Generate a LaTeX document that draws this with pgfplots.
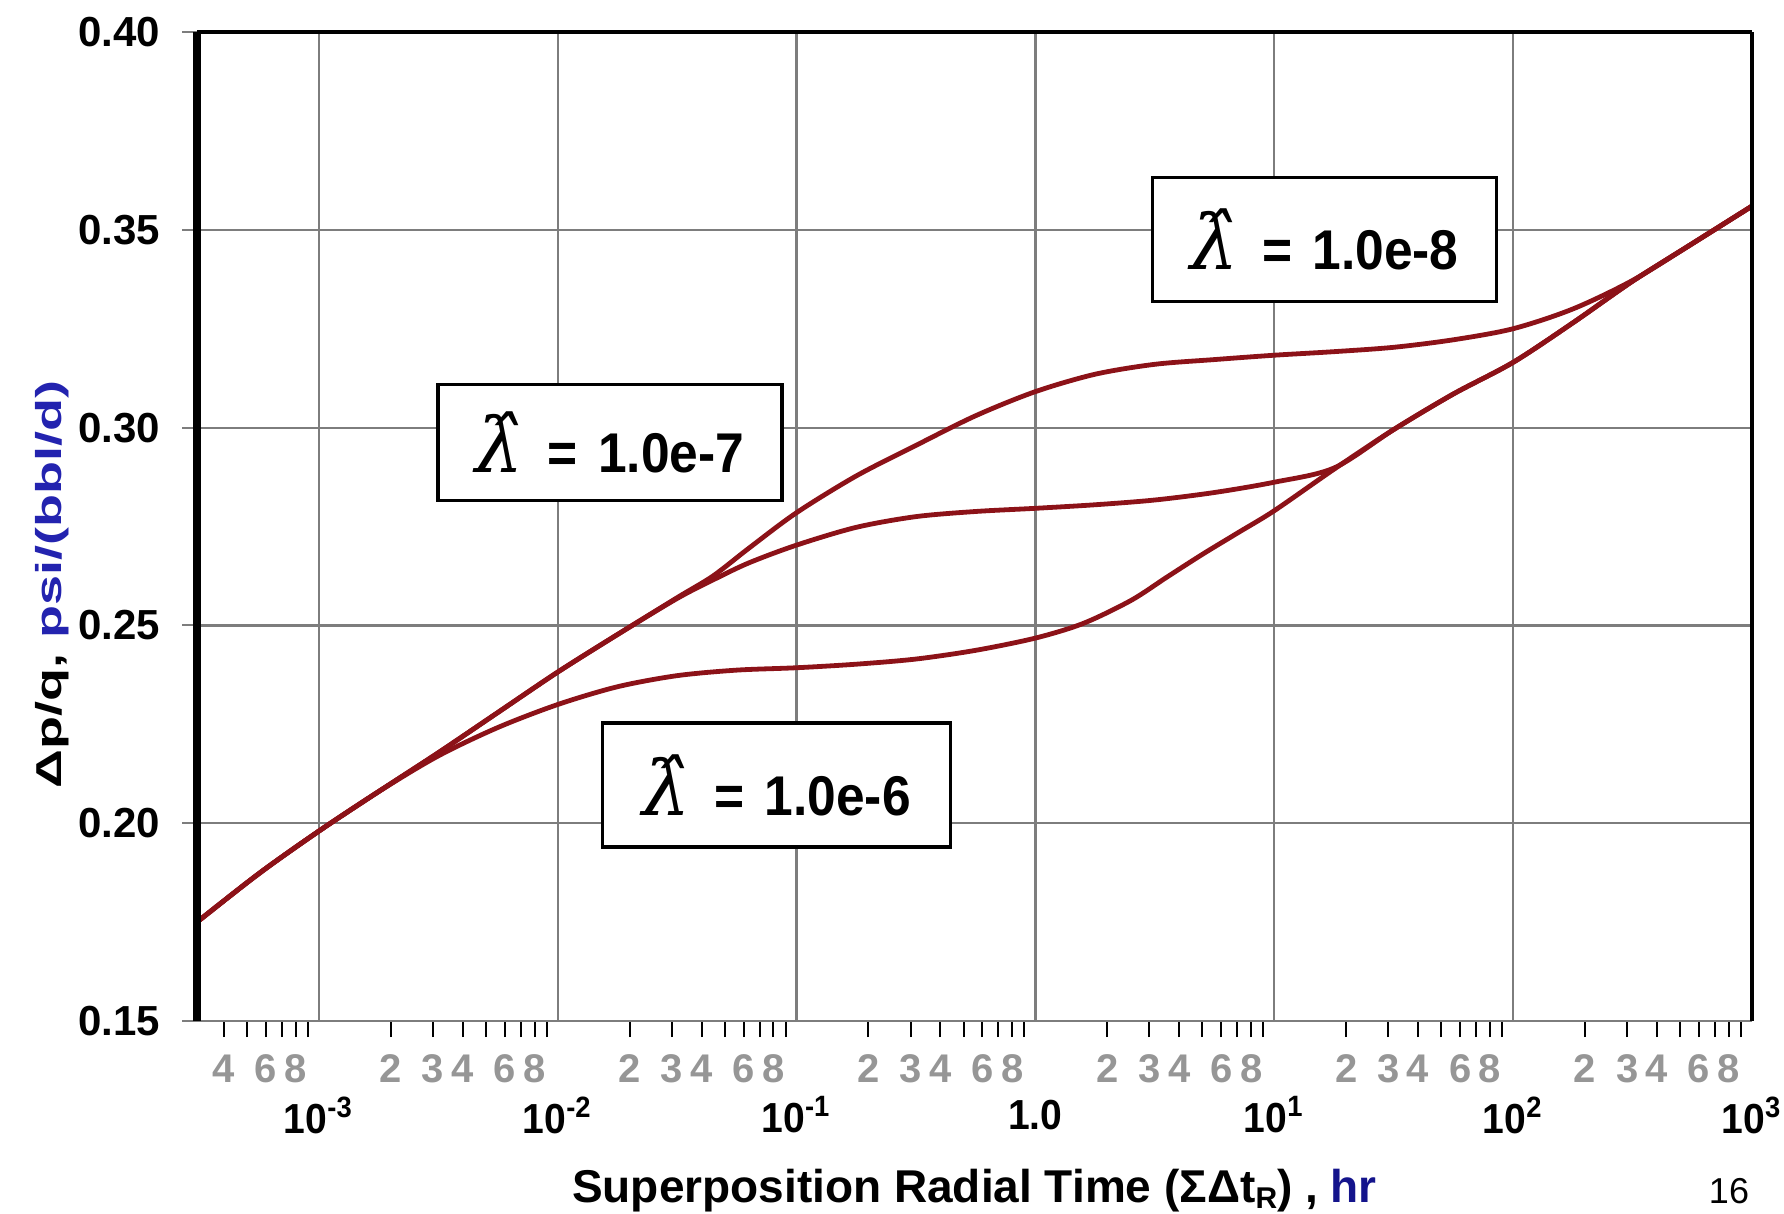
\documentclass[border=0pt]{standalone}
\usepackage{pgfplots}
\pgfplotsset{compat=1.18}
\usepackage{fontspec}
\setmainfont{Liberation Sans}
\newfontfamily\ylabfont{Liberation Sans}[FakeStretch=1.5]
\newfontfamily\xmajfont{Liberation Sans}[FakeStretch=0.93]
\newfontfamily\boxfont{Liberation Sans}[FakeStretch=0.92]
\newfontfamily\lamfont{DejaVu Serif}
\definecolor{curve}{RGB}{140,18,24}
\definecolor{gridc}{RGB}{125,125,125}
\definecolor{navy}{RGB}{35,35,175}
\definecolor{navyhr}{RGB}{20,20,140}
\definecolor{minorlab}{RGB}{150,150,150}
\newcommand{\lamhat}{{\lamfont\itshape\fontsize{19}{19}\selectfont λ̂}}
\begin{document}
\begin{tikzpicture}
\useasboundingbox (-49.25pt,-48pt) rectangle (396.75pt,255.25pt);
\begin{axis}[
  at={(0pt,0pt)}, anchor=south west, scale only axis,
  width=388.75pt, height=247.25pt,
  xmode=log, xmin=3.09e-4, xmax=1000, ymin=0.15, ymax=0.40,
  clip=false,
  axis line style={draw=none},
  xtick pos=bottom, ytick pos=left,
  tick align=outside,
  major tick length=3.75pt,
  minor tick length=4pt,
  xtick={1e-3,1e-2,1e-1,1,10,100,1000},
  xticklabels={10\textsuperscript{-3},10\textsuperscript{-2},10\textsuperscript{-1},1.0,10\textsuperscript{1},10\textsuperscript{2},10\textsuperscript{3}},
  major x tick style={draw=none},
  minor xtick={4e-4,5e-4,6e-4,7e-4,8e-4,9e-4,
    2e-3,3e-3,4e-3,5e-3,6e-3,7e-3,8e-3,9e-3,
    2e-2,3e-2,4e-2,5e-2,6e-2,7e-2,8e-2,9e-2,
    0.2,0.3,0.4,0.5,0.6,0.7,0.8,0.9,
    2,3,4,5,6,7,8,9,
    20,30,40,50,60,70,80,90,
    200,300,400,500,600,700,800,900},
  minor tick style={black, line width=0.5pt},
  xticklabel style={font=\xmajfont\bfseries\fontsize{10.5}{10.5}\selectfont, anchor=center, yshift=-19.75pt},
  extra x ticks={4e-4,6e-4,8e-4,
    2e-3,3e-3,4e-3,6e-3,8e-3,
    2e-2,3e-2,4e-2,6e-2,8e-2,
    0.2,0.3,0.4,0.6,0.8,
    2,3,4,6,8,
    20,30,40,60,80,
    200,300,400,600,800},
  extra x tick labels={4,6,8,2,3,4,6,8,2,3,4,6,8,2,3,4,6,8,2,3,4,6,8,2,3,4,6,8,2,3,4,6,8},
  extra x tick style={grid=none, major x tick style={draw=none},
    xticklabel style={yshift=11.5pt, text=minorlab, font=\bfseries\fontsize{10}{10}\selectfont}},
  ytick={0.15,0.2,0.25,0.3,0.35,0.4},
  yticklabels={0.15,0.20,0.25,0.30,0.35,0.40},
  major y tick style={gridc, line width=0.5pt},
  yticklabel style={font=\bfseries\fontsize{10.5}{10.5}\selectfont, xshift=-2pt},
  grid=major,
  major grid style={gridc, line width=0.55pt},
  xlabel={Superposition Radial Time (ΣΔt\raisebox{-1.6pt}{\fontsize{7.5}{7.5}\selectfont R}) , \textcolor{navyhr}{hr}},
  xlabel style={at={(axis description cs:0.5,-0.1710)}, anchor=center, font=\bfseries\fontsize{11.5}{11.5}\selectfont},
  ylabel={Δp/q, \textcolor{navy}{psi/(bbl/d)}},
  ylabel style={at={(axis description cs:-0.0932,0.441)}, anchor=center, font=\ylabfont\bfseries\fontsize{9}{9}\selectfont},
]
% lambda = 1.0e-6
\addplot[curve, line width=1.2pt, smooth, tension=0.5] coordinates {
(3.09e-4,0.175) (5.62e-4,0.1873) (1e-3,0.198) (1.78e-3,0.2080) (3.16e-3,0.2170)
(5.62e-3,0.2242) (1e-2,0.2300) (1.78e-2,0.2345) (3.16e-2,0.2373) (5.62e-2,0.2387)
(0.1,0.2393) (0.178,0.2402) (0.316,0.2415) (0.562,0.2437) (1,0.2468)
(1.585,0.2505) (2.51,0.2563) (3.55,0.2622) (5.01,0.2680) (7.08,0.2735)
(10,0.2790) (17.8,0.2895) (31.6,0.2995) (56.2,0.3085) (100,0.3165)
(178,0.3265) (316,0.3370) (562,0.3465) (1000,0.3560)};
% lambda = 1.0e-7
\addplot[curve, line width=1.2pt, smooth, tension=0.5] coordinates {
(3.09e-4,0.175) (5.62e-4,0.1873) (1e-3,0.198) (1.78e-3,0.2080) (3.16e-3,0.2178)
(5.62e-3,0.2280) (1e-2,0.2382) (1.78e-2,0.2477) (3.16e-2,0.2568) (4.47e-2,0.2615)
(6.31e-2,0.2658) (0.1,0.2703) (0.178,0.2748) (0.316,0.2775) (0.562,0.2788)
(1,0.2796) (1.78,0.2805) (3.16,0.2817) (5.62,0.2836) (10,0.2862)
(17.8,0.2898) (31.6,0.2995) (56.2,0.3085) (100,0.3165)
(178,0.3265) (316,0.3370) (562,0.3465) (1000,0.3560)};
% lambda = 1.0e-8
\addplot[curve, line width=1.2pt, smooth, tension=0.5] coordinates {
(3.09e-4,0.175) (5.62e-4,0.1873) (1e-3,0.198) (1.78e-3,0.2080) (3.16e-3,0.2178)
(5.62e-3,0.2280) (1e-2,0.2382) (1.78e-2,0.2477) (3.16e-2,0.2570) (4.47e-2,0.2625)
(6.31e-2,0.2695) (0.1,0.2785) (0.178,0.2878) (0.316,0.2955) (0.562,0.3030)
(1,0.3091) (1.78,0.3135) (3.16,0.3160) (5.62,0.3172) (10,0.3183)
(17.8,0.3192) (31.6,0.3203) (56.2,0.3222) (100,0.3250) (178,0.3300)
(316,0.3372) (562,0.3465) (1000,0.3560)};
% frame
\draw[gridc, line width=0.7pt] (rel axis cs:0,0) -- (rel axis cs:1,0);
\draw[black, line width=1.1pt] (rel axis cs:0,1) -- (rel axis cs:1,1);
\draw[black, line width=1.2pt] (rel axis cs:1,0) -- (rel axis cs:1,1);
\draw[black, line width=2pt] (rel axis cs:0,0) -- (rel axis cs:0,1);
% annotation boxes
\node[draw=black, line width=0.8pt, fill=white, minimum width=86pt, minimum height=31pt, inner sep=0pt]
  at (rel axis cs:0.725,0.790) {\lamhat\hspace{6pt}{\boxfont\bfseries\fontsize{14}{14}\selectfont =\hspace{5pt}1.0e-8}};
\node[draw=black, line width=0.8pt, fill=white, minimum width=86pt, minimum height=29pt, inner sep=0pt]
  at (rel axis cs:0.2656,0.585) {\lamhat\hspace{6pt}{\boxfont\bfseries\fontsize{14}{14}\selectfont =\hspace{5pt}1.0e-7}};
\node[draw=black, line width=0.8pt, fill=white, minimum width=87pt, minimum height=31pt, inner sep=0pt]
  at (rel axis cs:0.3727,0.2386) {\lamhat\hspace{6pt}{\boxfont\bfseries\fontsize{14}{14}\selectfont =\hspace{5pt}1.0e-6}};
\node[font=\fontsize{9}{9}\selectfont, anchor=center] at (axis description cs:0.9852,-0.1719) {16};
\end{axis}
\end{tikzpicture}
\end{document}
